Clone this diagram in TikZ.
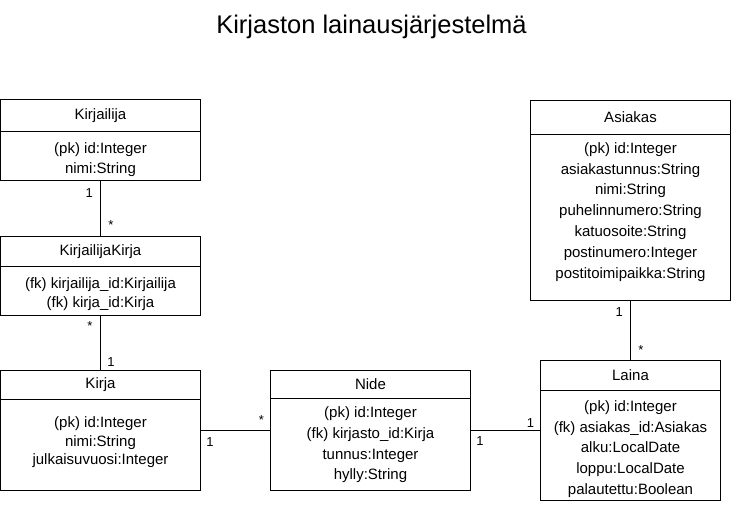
\documentclass[tikz,border=0pt]{standalone}
\usepackage{fontspec}
\setmainfont{Liberation Sans}
\usetikzlibrary{positioning}

\begin{document}
\begin{tikzpicture}[x=1pt,y=-1pt,line width=1pt,
      hdr/.style={draw,inner sep=0pt,outer sep=0pt,font=\fontsize{15}{18}\selectfont},
      attrbox/.style={draw,inner sep=0pt,outer sep=0pt},
      attrs/.style={align=center,inner sep=0pt,font=\fontsize{15}{#1}\selectfont},
      mult/.style={inner sep=0pt,anchor=base,font=\fontsize{13}{15}\selectfont}]
      \useasboundingbox (0,0) rectangle (731,524);
      \node[anchor=base,font=\fontsize{25.5}{30}\selectfont] (title) at (371.5,33.3) {Kirjaston lainausjärjestelmä};

      \node[hdr,minimum width=200pt,minimum height=31.5pt,anchor=north west] (kirjailija) at (0.5,100) {Kirjailija};
      \node[attrbox,minimum width=200pt,minimum height=48.5pt,below=0pt of kirjailija] (kirjailijaA) {};
      \node[attrs=20,below=10.3pt of kirjailijaA.north] (kirjailijaT) {(pk) id:Integer\\nimi:String};

      \node[hdr,minimum width=200pt,minimum height=30.5pt,anchor=north west] (kk) at (0.5,236) {KirjailijaKirja};
      \node[attrbox,minimum width=200pt,minimum height=49pt,below=0pt of kk] (kkA) {};
      \node[attrs=18.4,below=11.1pt of kkA.north] (kkT) {(fk) kirjailija\_id:Kirjailija\\(fk) kirja\_id:Kirja};

      \node[hdr,minimum width=200pt,minimum height=29.5pt,anchor=north west] (kirja) at (0.5,370) {Kirja};
      \node[attrbox,minimum width=200pt,minimum height=90.5pt,below=0pt of kirja] (kirjaA) {};
      \node[attrs=18.7,below=16.5pt of kirjaA.north] (kirjaT) {(pk) id:Integer\\nimi:String\\julkaisuvuosi:Integer};

      \node[hdr,minimum width=200pt,minimum height=28.5pt,anchor=north west] (nide) at (270.5,370) {Nide};
      \node[attrbox,minimum width=200pt,minimum height=91.5pt,below=0pt of nide] (nideA) {};
      \node[attrs=20.7,below=7.8pt of nideA.north] (nideT) {(pk) id:Integer\\(fk) kirjasto\_id:Kirja\\tunnus:Integer\\hylly:String};

      \node[hdr,minimum width=200pt,minimum height=34pt,anchor=north west] (asiakas) at (530.5,100.5) {Asiakas};
      \node[attrbox,minimum width=200pt,minimum height=166pt,below=0pt of asiakas] (asiakasA) {};
      \node[attrs=20.8,below=7.5pt of asiakasA.north] (asiakasT) {(pk) id:Integer\\asiakastunnus:String\\nimi:String\\puhelinnumero:String\\katuosoite:String\\postinumero:Integer\\postitoimipaikka:String};

      \node[hdr,minimum width=180pt,minimum height=29.5pt,anchor=north west] (laina) at (540.5,360.5) {Laina};
      \node[attrbox,minimum width=180pt,minimum height=110pt,below=0pt of laina] (lainaA) {};
      \node[attrs=20.7,below=10pt of lainaA.north] (lainaT) {(pk) id:Integer\\(fk) asiakas\_id:Asiakas\\alku:LocalDate\\loppu:LocalDate\\palautettu:Boolean};

      \coordinate (kn) at ([yshift=14.25pt]kirjaA.east);
      \coordinate (nl) at ([yshift=13.75pt]nideA.east);
      \draw (kirjailijaA.south) -- (kk.north);
      \draw (kkA.south) -- (kirja.north);
      \draw (kn) -- (kn -| nideA.west);
      \draw (nl) -- (nl -| lainaA.west);
      \draw (asiakasA.south) -- (laina.north);

      \node[mult] (m1) at ([shift={(-11.2,17.1)}]kirjailijaA.south) {1};
      \node[mult] (m2) at ([shift={(10.5,-6.9)}]kk.north) {*};
      \node[mult] (m3) at ([shift={(-10.5,15.2)}]kkA.south) {*};
      \node[mult] (m4) at ([shift={(10.5,-3.9)}]kirja.north) {1};
      \node[mult] (m5) at ([shift={(9.5,15.6)}]kn) {1};
      \node[mult] (m6) at ([shift={(-9,-5.9)}]kn -| nideA.west) {*};
      \node[mult] (m7) at ([shift={(9.5,15.3)}]nl) {1};
      \node[mult] (m8) at ([shift={(-10,-3.1)}]nl -| lainaA.west) {1};
      \node[mult] (m9) at ([shift={(-11.2,15.9)}]asiakasA.south) {1};
      \node[mult] (m10) at ([shift={(10.5,-5.8)}]laina.north) {*};
\end{tikzpicture}
\end{document}
